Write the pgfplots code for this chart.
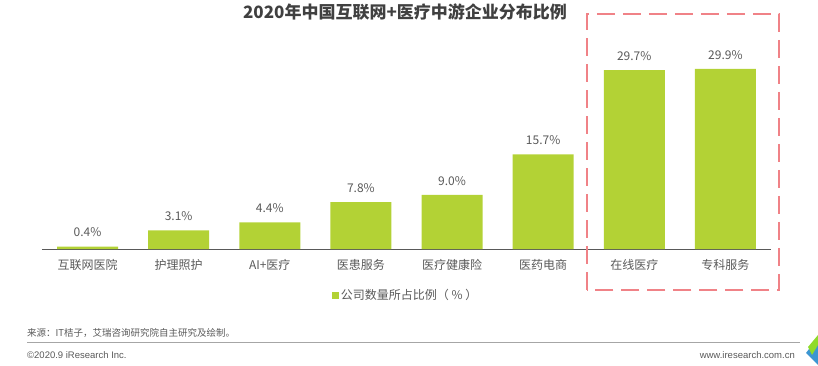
\documentclass[border=0pt]{standalone}
\usepackage{pgfplots}
\pgfplotsset{compat=1.18}
\usepackage{fontspec}
\setmainfont{Noto Sans CJK SC}
\newfontfamily\latinfont{Liberation Sans}
\definecolor{barc}{RGB}{179,210,53}
\definecolor{txt}{RGB}{89,89,89}
\definecolor{ttl}{RGB}{64,64,64}
\definecolor{boxc}{RGB}{240,130,135}
\definecolor{logob}{RGB}{60,150,210}
\begin{document}
\begin{tikzpicture}[x=1bp,y=1bp]
\useasboundingbox (0,0) rectangle (818,365);
\begin{axis}[
  at={(87.5bp,116bp)}, anchor=origin,
  scale only axis, width=729bp, height=235bp,
  xmin=-0.5, xmax=7.5, ymin=0, ymax=39,
  axis y line=none,
  axis x line*=bottom,
  x axis line style={-, draw=txt, line width=0.8bp},
  xtick=data, major tick length=0pt,
  xticklabels={互联网医院,护理照护,AI+医疗,医患服务,医疗健康险,医药电商,在线医疗,专科服务},
  xticklabel style={font=\fontsize{12bp}{14bp}\selectfont, text=txt, yshift=-7bp},
  ybar, bar width=61bp,
  clip=false,
  nodes near coords={\pgfmathprintnumber[fixed,precision=1,fixed zerofill,assume math mode=true]{\pgfplotspointmeta}\%},
  every node near coord/.append style={font=\fontsize{12bp}{14bp}\selectfont, text=txt, yshift=6bp},
  legend style={at={(0.499,-0.196)}, anchor=center, draw=none, fill=none,
    font=\fontsize{12bp}{14bp}\selectfont, text=txt, inner sep=0pt},
  legend image code/.code={\fill[barc] (0bp,-3.5bp) rectangle (7bp,3.5bp);},
]
\addplot[fill=barc, draw=none] coordinates {(0,0.4) (1,3.1) (2,4.4) (3,7.8) (4,9.0) (5,15.7) (6,29.7) (7,29.9)};
\addlegendentry{公司数量所占比例（ \% ）}
\draw[boxc, line width=2.5bp, dash pattern=on 18bp off 8bp] (axis cs:5.48,-6.8) rectangle (axis cs:7.59,39.0);
\end{axis}
\node[font=\fontsize{17bp}{20bp}\selectfont\bfseries, text=ttl] at (405,353) {2020年中国互联网+医疗中游企业分布比例};
\node[anchor=west, font=\fontsize{9.5bp}{11bp}\selectfont, text=txt, inner sep=0pt] at (27,32) {来源：IT桔子，艾瑞咨询研究院自主研究及绘制。};
\draw[gray!70, line width=0.8bp] (27,23) -- (800,23);
\node[anchor=west, font=\latinfont\fontsize{9.5bp}{11bp}\selectfont, text=txt, inner sep=0pt] at (27,10) {©2020.9 iResearch Inc.};
\node[anchor=east, font=\latinfont\fontsize{9.5bp}{11bp}\selectfont, text=txt, inner sep=0pt] at (795,10) {www.iresearch.com.cn};
\fill[logob] (818,28) -- (806,12) -- (818,0) -- cycle;
\fill[barc!80!green] (818,30) -- (808,18) -- (812,10) -- (818,20) -- cycle;
\end{tikzpicture}
\end{document}
